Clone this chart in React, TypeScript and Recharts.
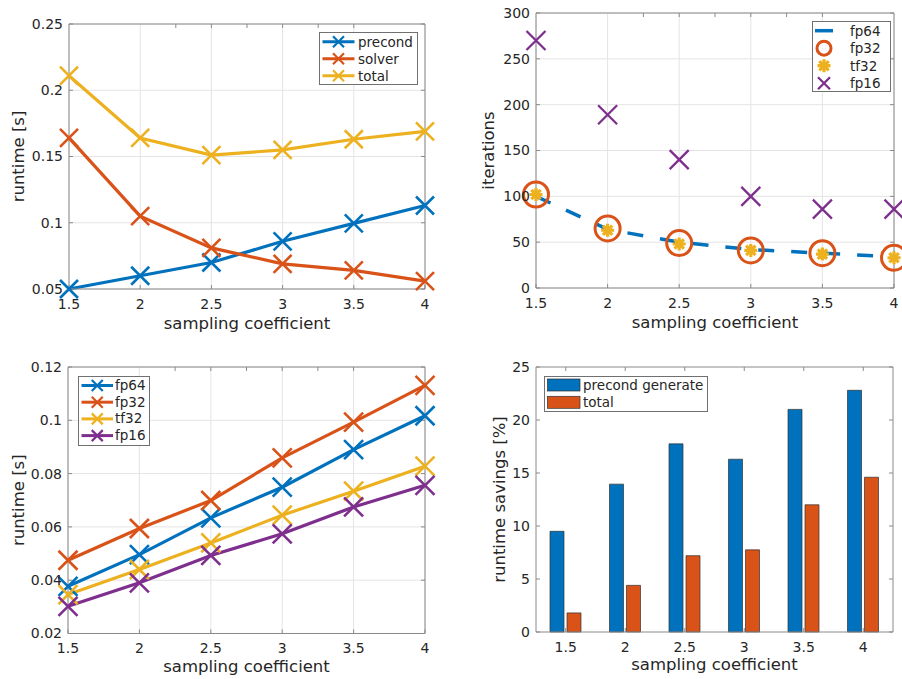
import type { ReactNode } from 'react'
import { Bar, BarChart, CartesianGrid, Legend, Line, LineChart, XAxis, YAxis } from 'recharts'

// sampling coefficients shared by all four panels
const coefs = [1.5, 2, 2.5, 3, 3.5, 4]

// top left: runtime split [s]
const precondTime = [0.05, 0.06, 0.07, 0.086, 0.0995, 0.113]
const solverTime = [0.164, 0.105, 0.081, 0.069, 0.064, 0.056]
const totalTime = [0.211, 0.164, 0.151, 0.155, 0.163, 0.169]
const runtimeTicks = [0.05, 0.1, 0.15, 0.2, 0.25]

// top right: iterations per precision
const fp64Iter = [100, 64, 50, 42, 38, 34]
const fp32Iter = [102, 65, 49, 41, 38, 33]
const tf32Iter = [102, 63, 48, 41, 37, 33]
const fp16Iter = [270, 189, 140, 100, 86, 86]
const iterTicks = [0, 50, 100, 150, 200, 250, 300]

// bottom left: runtime per precision [s]
const fp64Run = [0.0377, 0.0496, 0.0634, 0.0749, 0.089, 0.1017]
const fp32Run = [0.0475, 0.0594, 0.0699, 0.0859, 0.0993, 0.1131]
const tf32Run = [0.0346, 0.044, 0.054, 0.0644, 0.0734, 0.0828]
const fp16Run = [0.0302, 0.039, 0.0493, 0.0574, 0.0675, 0.0756]
const precTicks = [0.02, 0.04, 0.06, 0.08, 0.1, 0.12]

// bottom right: runtime savings [%]
const coefLabels = ['1.5', '2', '2.5', '3', '3.5', '4']
const precondSavings = [9.5, 13.95, 17.75, 16.3, 21.0, 22.8]
const totalSavings = [1.8, 4.4, 7.2, 7.75, 12.0, 14.6]
const savingsTicks = [0, 5, 10, 15, 20, 25]

const BLUE = '#0072bd'
const ORANGE = '#d95319'
const YELLOW = '#edb120'
const PURPLE = '#7e2f8e'
const TEXT = '#262626'
const AXIS = '#8a8a8a'
const GRID = '#e4e4e4'
const EDGE = '#707070'
const FONT = '"DejaVu Sans", sans-serif'

const splitData = coefs.map((c, i) => ({ c, precond: precondTime[i], solver: solverTime[i], total: totalTime[i] }))
const iterData = coefs.map((c, i) => ({ c, fp64: fp64Iter[i], fp32: fp32Iter[i], tf32: tf32Iter[i], fp16: fp16Iter[i] }))
const precData = coefs.map((c, i) => ({ c, fp64: fp64Run[i], fp32: fp32Run[i], tf32: tf32Run[i], fp16: fp16Run[i] }))
const savingsData = coefLabels.map((c, i) => ({ c, precond: precondSavings[i], total: totalSavings[i] }))

const cross = (cx: number, cy: number, s: number) =>
  `M${cx - s},${cy - s}L${cx + s},${cy + s}M${cx - s},${cy + s}L${cx + s},${cy - s}`

const star = (cx: number, cy: number, s: number) => {
  const d = s * 0.72
  return `M${cx - s},${cy}L${cx + s},${cy}M${cx},${cy - s}L${cx},${cy + s}` + cross(cx, cy, d)
}

const xDot = (color: string, s: number, w: number) => (p: any) =>
  p.cx == null ? <g key={p.index} /> : (
    <path key={p.index} d={cross(p.cx, p.cy, s)} stroke={color} strokeWidth={w} fill="none" />
  )

const starDot = (color: string, s: number, w: number) => (p: any) =>
  p.cx == null ? <g key={p.index} /> : (
    <path key={p.index} d={star(p.cx, p.cy, s)} stroke={color} strokeWidth={w} fill="none" />
  )

const circleDot = (color: string, r: number, w: number) => (p: any) =>
  p.cx == null ? <g key={p.index} /> : (
    <circle key={p.index} cx={p.cx} cy={p.cy} r={r} stroke={color} strokeWidth={w} fill="none" />
  )

type Row = { label: string; icon: (cy: number) => ReactNode }

function LegendBox({ width, height, first, step, textX, rows }: {
  width: number; height: number; first: number; step: number; textX: number; rows: Row[]
}) {
  return (
    <div style={{ position: 'relative', width, height, border: `1px solid ${EDGE}`, boxSizing: 'border-box', background: '#fff', fontFamily: FONT, fontSize: 13.5, color: TEXT }}>
      <svg width={width} height={height} style={{ position: 'absolute', left: -1, top: -1 }}>
        {rows.map((r, i) => <g key={r.label}>{r.icon(first + i * step)}</g>)}
      </svg>
      {rows.map((r, i) => (
        <div key={r.label} style={{ position: 'absolute', left: textX - 1, top: first + i * step - 10, lineHeight: '18px', whiteSpace: 'nowrap' }}>
          {r.label}
        </div>
      ))}
    </div>
  )
}

const lineX = (label: string, color: string, x0: number, x1: number) => ({
  label,
  icon: (cy: number) => (
    <>
      <line x1={x0} x2={x1} y1={cy} y2={cy} stroke={color} strokeWidth={3} />
      <path d={cross((x0 + x1) / 2, cy, 5.5)} stroke={color} strokeWidth={2.2} fill="none" />
    </>
  ),
})

const tickStyle = { fill: TEXT, fontSize: 14 }
const labelStyle = { fill: TEXT, fontSize: 16.5 }

const xLabel = (offset: number) => ({ value: 'sampling coefficient', position: 'insideTop' as const, offset, ...labelStyle })
const yLabel = (value: string, offset: number) => ({
  value, angle: -90, position: 'insideLeft' as const, offset, ...labelStyle, style: { textAnchor: 'middle' as const },
})

const noTick = () => null

export default function App() {
  return (
    <div style={{ position: 'absolute', left: 0, top: 0, width: 902, height: 679, background: '#fff', fontFamily: FONT }}>
      {/* top left: runtime split */}
      <div style={{ position: 'absolute', left: 0, top: 0 }}>
        <LineChart width={450} height={340} data={splitData} margin={{ top: 23, right: 24, bottom: 0, left: 0 }}>
          <CartesianGrid stroke={GRID} />
          <XAxis dataKey="c" type="number" domain={[1.5, 4]} ticks={coefs} interval={0} height={51}
            stroke={AXIS} tickSize={-4} tickMargin={14.5} tick={tickStyle} label={xLabel(28.5)} />
          <YAxis type="number" domain={[0.05, 0.25]} ticks={runtimeTicks} interval={0} width={69}
            stroke={AXIS} tickSize={-4} tickMargin={10} tick={tickStyle} label={yLabel('runtime [s]', 18)} />
          <XAxis xAxisId="top" orientation="top" type="number" domain={[1.5, 4]} ticks={coefs} interval={0} height={1}
            allowDataOverflow stroke={AXIS} tickSize={-4} tick={noTick} />
          <YAxis yAxisId="right" orientation="right" type="number" domain={[0.05, 0.25]} ticks={runtimeTicks} interval={0} width={1}
            allowDataOverflow stroke={AXIS} tickSize={-4} tick={noTick} />
          <Line dataKey="precond" stroke={BLUE} strokeWidth={3.2} dot={xDot(BLUE, 9, 2.6)} isAnimationActive={false} />
          <Line dataKey="solver" stroke={ORANGE} strokeWidth={3.2} dot={xDot(ORANGE, 9, 2.6)} isAnimationActive={false} />
          <Line dataKey="total" stroke={YELLOW} strokeWidth={3.2} dot={xDot(YELLOW, 9, 2.6)} isAnimationActive={false} />
          <Legend layout="vertical" align="center" verticalAlign="middle"
            wrapperStyle={{ left: 319, top: 32, width: 99, height: 53 }}
            content={() => (
              <LegendBox width={99} height={53} first={9.7} step={17} textX={39} rows={[
                lineX('precond', BLUE, 3.5, 35.5),
                lineX('solver', ORANGE, 3.5, 35.5),
                lineX('total', YELLOW, 3.5, 35.5),
              ]} />
            )} />
        </LineChart>
      </div>

      {/* top right: iterations */}
      <div style={{ position: 'absolute', left: 450, top: 0 }}>
        <LineChart width={452} height={340} data={iterData} margin={{ top: 12, right: 7, bottom: 0, left: 0 }}>
          <CartesianGrid stroke={GRID} />
          <XAxis dataKey="c" type="number" domain={[1.5, 4]} ticks={coefs} interval={0} height={52}
            stroke={AXIS} tickSize={-4} tickMargin={14} tick={tickStyle} label={xLabel(28.5)} />
          <YAxis type="number" domain={[0, 300]} ticks={iterTicks} interval={0} width={86}
            stroke={AXIS} tickSize={-4} tickMargin={10} tick={tickStyle} label={yLabel('iterations', 38)} />
          <XAxis xAxisId="top" orientation="top" type="number" domain={[1.5, 4]} ticks={coefs} interval={0} height={1}
            allowDataOverflow stroke={AXIS} tickSize={-4} tick={noTick} />
          <YAxis yAxisId="right" orientation="right" type="number" domain={[0, 300]} ticks={iterTicks} interval={0} width={1}
            allowDataOverflow stroke={AXIS} tickSize={-4} tick={noTick} />
          <Line dataKey="fp64" stroke={BLUE} strokeWidth={3.5} strokeDasharray="16 17" dot={false} isAnimationActive={false} />
          <Line dataKey="fp32" stroke="none" dot={circleDot(ORANGE, 12.5, 3)} isAnimationActive={false} />
          <Line dataKey="tf32" stroke="none" dot={starDot(YELLOW, 6.5, 3.2)} isAnimationActive={false} />
          <Line dataKey="fp16" stroke="none" dot={xDot(PURPLE, 9.5, 2.3)} isAnimationActive={false} />
          <Legend layout="vertical" align="center" verticalAlign="middle"
            wrapperStyle={{ left: 362, top: 21, width: 79, height: 71 }}
            content={() => (
              <LegendBox width={79} height={71} first={9.7} step={17.5} textX={38} rows={[
                { label: 'fp64', icon: (cy) => <line x1={3} x2={21} y1={cy} y2={cy} stroke={BLUE} strokeWidth={3.5} /> },
                { label: 'fp32', icon: (cy) => <circle cx={12} cy={cy} r={7} stroke={ORANGE} strokeWidth={3} fill="none" /> },
                { label: 'tf32', icon: (cy) => <path d={star(12, cy, 6.5)} stroke={YELLOW} strokeWidth={3.2} fill="none" /> },
                { label: 'fp16', icon: (cy) => <path d={cross(12, cy, 6)} stroke={PURPLE} strokeWidth={2.3} fill="none" /> },
              ]} />
            )} />
        </LineChart>
      </div>

      {/* bottom left: runtime per precision */}
      <div style={{ position: 'absolute', left: 0, top: 340 }}>
        <LineChart width={450} height={339} data={precData} margin={{ top: 26, right: 24, bottom: 0, left: 0 }}>
          <CartesianGrid stroke={GRID} />
          <XAxis dataKey="c" type="number" domain={[1.5, 4]} ticks={coefs} interval={0} height={45.5}
            stroke={AXIS} tickSize={-4} tickMargin={14} tick={tickStyle} label={xLabel(26.5)} />
          <YAxis type="number" domain={[0.02, 0.12]} ticks={precTicks} interval={0} width={68}
            stroke={AXIS} tickSize={-4} tickMargin={10} tick={tickStyle} label={yLabel('runtime [s]', 18)} />
          <XAxis xAxisId="top" orientation="top" type="number" domain={[1.5, 4]} ticks={coefs} interval={0} height={1}
            allowDataOverflow stroke={AXIS} tickSize={-4} tick={noTick} />
          <YAxis yAxisId="right" orientation="right" type="number" domain={[0.02, 0.12]} ticks={precTicks} interval={0} width={1}
            allowDataOverflow stroke={AXIS} tickSize={-4} tick={noTick} />
          <Line dataKey="fp64" stroke={BLUE} strokeWidth={3.2} dot={xDot(BLUE, 9.5, 2.6)} isAnimationActive={false} />
          <Line dataKey="fp32" stroke={ORANGE} strokeWidth={3.2} dot={xDot(ORANGE, 9.5, 2.6)} isAnimationActive={false} />
          <Line dataKey="tf32" stroke={YELLOW} strokeWidth={3.2} dot={xDot(YELLOW, 9.5, 2.6)} isAnimationActive={false} />
          <Line dataKey="fp16" stroke={PURPLE} strokeWidth={3.2} dot={xDot(PURPLE, 9.5, 2.6)} isAnimationActive={false} />
          <Legend layout="vertical" align="center" verticalAlign="middle"
            wrapperStyle={{ left: 78, top: 35.5, width: 72, height: 70 }}
            content={() => (
              <LegendBox width={72} height={70} first={9.5} step={16.7} textX={37} rows={[
                lineX('fp64', BLUE, 3.5, 35),
                lineX('fp32', ORANGE, 3.5, 35),
                lineX('tf32', YELLOW, 3.5, 35),
                lineX('fp16', PURPLE, 3.5, 35),
              ]} />
            )} />
        </LineChart>
      </div>

      {/* bottom right: savings */}
      <div style={{ position: 'absolute', left: 450, top: 340 }}>
        <BarChart width={452} height={339} data={savingsData} barSize={14} barGap={3}
          margin={{ top: 26, right: 8, bottom: 0, left: 0 }}>
          <XAxis dataKey="c" type="category" interval={0} height={47}
            stroke={AXIS} tickSize={-4} tickMargin={14} tick={tickStyle} label={xLabel(26.5)} />
          <YAxis type="number" domain={[0, 25]} ticks={savingsTicks} interval={0} width={86}
            stroke={AXIS} tickSize={-4} tickMargin={10} tick={tickStyle} label={yLabel('runtime savings [%]', 49)} />
          <XAxis xAxisId="top" orientation="top" dataKey="c" type="category" interval={0} height={1}
            stroke={AXIS} tickSize={-4} tick={noTick} />
          <YAxis yAxisId="right" orientation="right" type="number" domain={[0, 25]} ticks={savingsTicks} interval={0} width={1}
            allowDataOverflow stroke={AXIS} tickSize={-4} tick={noTick} />
          <Bar dataKey="precond" fill={BLUE} stroke="#303030" strokeWidth={0.7} isAnimationActive={false} />
          <Bar dataKey="total" fill={ORANGE} stroke="#303030" strokeWidth={0.7} isAnimationActive={false} />
          <Legend layout="vertical" align="center" verticalAlign="middle"
            wrapperStyle={{ left: 94, top: 36, width: 164, height: 36 }}
            content={() => (
              <LegendBox width={164} height={36} first={9} step={17.3} textX={39} rows={[
                { label: 'precond generate', icon: (cy) => <rect x={3.5} y={cy - 6} width={32.5} height={12} fill={BLUE} stroke="#303030" strokeWidth={0.7} /> },
                { label: 'total', icon: (cy) => <rect x={3.5} y={cy - 6} width={32.5} height={12} fill={ORANGE} stroke="#303030" strokeWidth={0.7} /> },
              ]} />
            )} />
        </BarChart>
      </div>
    </div>
  )
}
